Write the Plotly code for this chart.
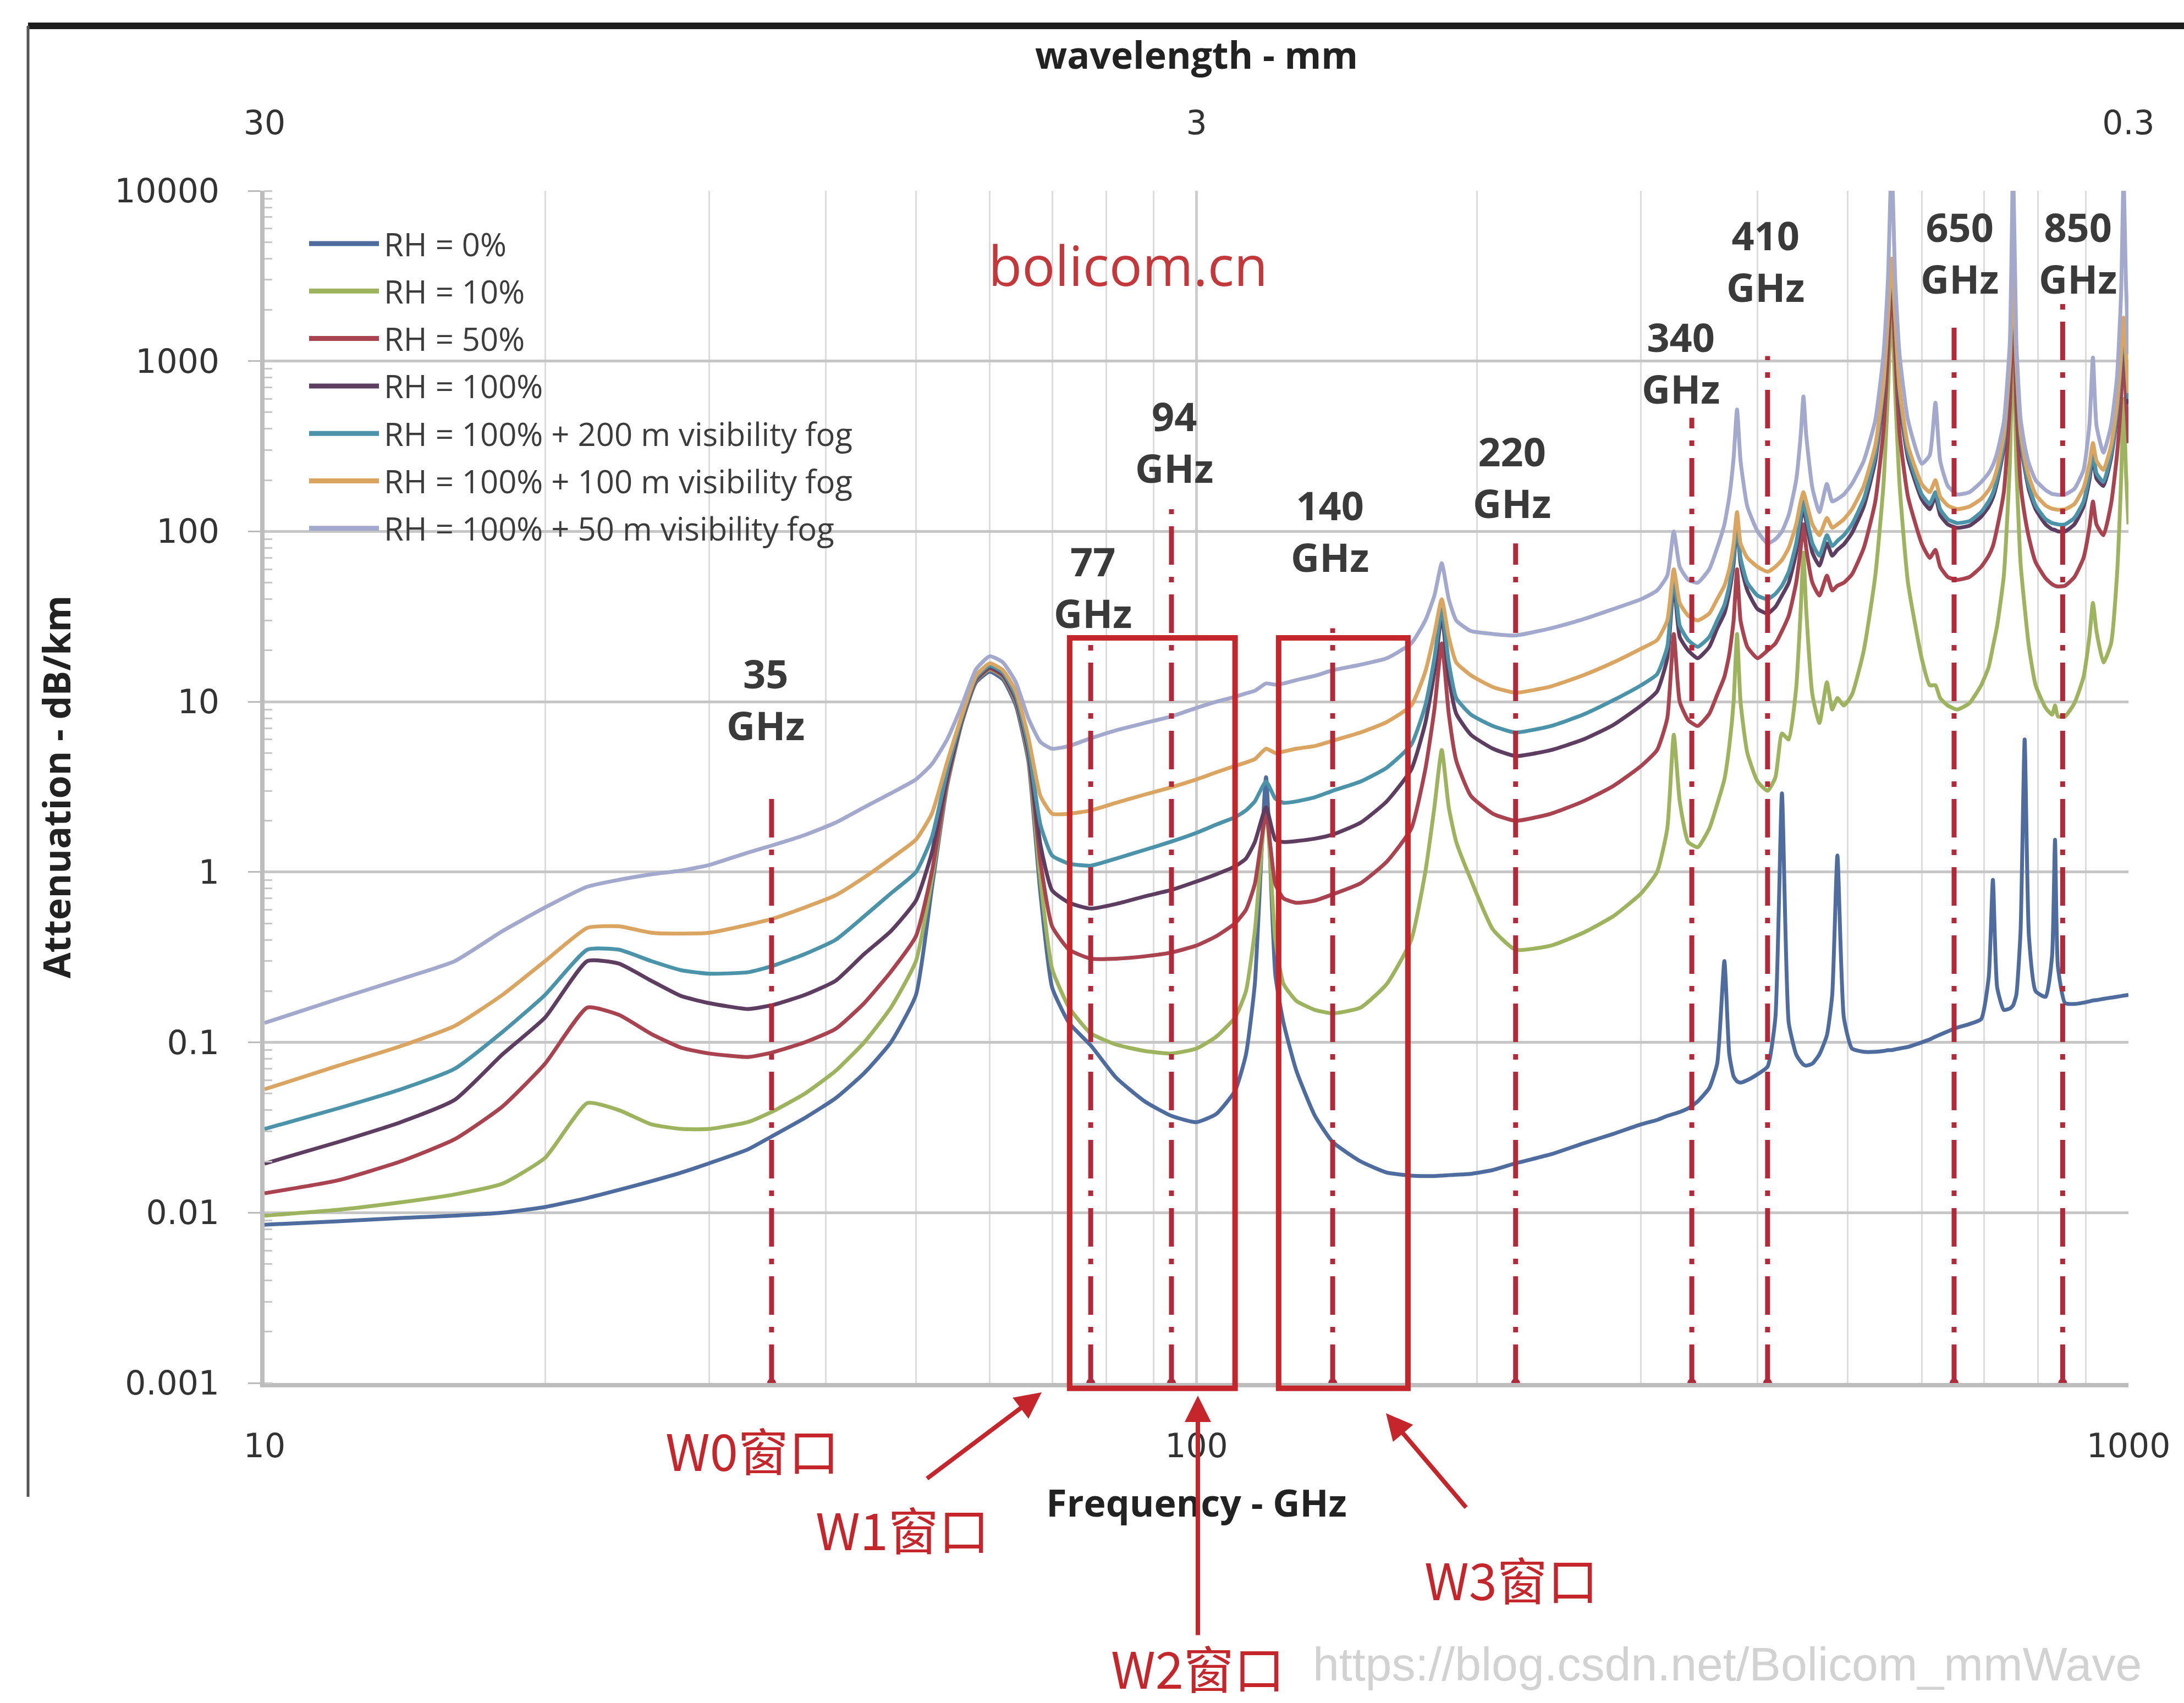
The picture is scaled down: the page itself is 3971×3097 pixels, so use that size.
import numpy as np
import plotly.graph_objects as go

# ---------------- data ----------------
freq_ghz = [10, 12, 14, 16, 18, 20, 22.2, 24, 26, 28,
            30, 33, 35, 38, 41, 44, 47, 50, 52, 54,
            56, 58, 60, 62, 64, 66, 68, 70, 73, 77,
            82, 88, 94, 100, 105, 110, 113, 115.5, 118.75, 121.5,
            124, 128, 134, 140, 150, 160, 170, 176, 180, 183.3,
            186.5, 190, 197, 208, 220, 240, 260, 280, 300, 312,
            320, 325.2, 330, 337, 345, 355, 362, 368.5, 373, 377,
            380.2, 383.5, 390, 400, 410, 418, 424.8, 432, 440, 445,
            448, 451, 458, 466, 474.7, 481, 487.2, 495, 505, 520,
            535, 546, 552, 557, 562, 568, 580, 600, 612, 620.7,
            628, 640, 655, 675, 695, 708, 715.4, 723, 735, 746,
            752, 758, 766, 773.8, 782, 795, 815, 828, 834.1, 840,
            855, 875, 895, 908, 916, 924, 940, 958, 972, 982,
            988, 994, 1000]

rh_0 = [0.0085, 0.0089, 0.0093, 0.0096, 0.0100, 0.0108, 0.0122, 0.0136, 0.0153, 0.0172,
        0.0195, 0.0235, 0.028, 0.036, 0.047, 0.066, 0.10, 0.19, 0.8, 3.2,
        7.5, 13, 15, 13.5, 9.5, 4.5, 0.75, 0.21, 0.13, 0.096,
        0.062, 0.045, 0.037, 0.034, 0.038, 0.052, 0.085, 0.22, 3.6, 0.25,
        0.13, 0.068, 0.037, 0.026, 0.02, 0.0172, 0.0165, 0.0164, 0.0164, 0.0165,
        0.0166, 0.0167, 0.0169, 0.0178, 0.0195, 0.022, 0.0255, 0.029, 0.033, 0.035,
        0.037, 0.038, 0.039, 0.041, 0.045, 0.054, 0.075, 0.30, 0.085, 0.063,
        0.059, 0.058, 0.06, 0.065, 0.072, 0.14, 2.9, 0.13, 0.085, 0.077,
        0.074, 0.073, 0.075, 0.085, 0.11, 0.19, 1.25, 0.14, 0.092, 0.088,
        0.088, 0.089, 0.09, 0.09, 0.091, 0.092, 0.094, 0.1, 0.104, 0.108,
        0.111, 0.116, 0.122, 0.128, 0.137, 0.24, 0.9, 0.21, 0.155, 0.158,
        0.165, 0.19, 0.45, 6.0, 0.42, 0.2, 0.185, 0.32, 1.55, 0.28,
        0.17, 0.168, 0.171, 0.174, 0.176, 0.177, 0.18, 0.183, 0.185, 0.187,
        0.188, 0.189, 0.19]

rh_10 = [0.0096, 0.0104, 0.0115, 0.0128, 0.0148, 0.021, 0.044, 0.040, 0.033, 0.031,
         0.031, 0.034, 0.039, 0.05, 0.068, 0.10, 0.16, 0.3, 0.9, 3.3,
         7.6, 13.3, 15.5, 14, 10, 4.8, 0.9, 0.27, 0.16, 0.113,
         0.097, 0.089, 0.086, 0.092, 0.108, 0.14, 0.2, 0.45, 2.4, 0.4,
         0.22, 0.175, 0.155, 0.148, 0.16, 0.22, 0.4, 1.0, 2.4, 5.2,
         2.4, 1.5, 0.9, 0.46, 0.35, 0.37, 0.44, 0.55, 0.75, 1.0,
         1.8, 6.4, 2.6, 1.5, 1.4, 1.8, 2.5, 3.5, 5.5, 10,
         25, 10, 5, 3.4, 3.0, 3.6, 6.5, 6, 12, 35,
         75, 35, 11, 7.5, 13, 9, 10.5, 9.5, 11, 20,
         55, 190, 650, 2200, 650, 190, 50, 18, 12.5, 12.5,
         10.5, 9.5, 9, 9.8, 12.5, 16, 21, 28, 55, 250,
         1500, 250, 65, 36, 21, 12.5, 9.2, 8.4, 9.5, 8.2,
         8.2, 9.8, 14, 24, 38, 26, 17, 22, 55, 200,
         600, 220, 110]

rh_50 = [0.013, 0.0155, 0.02, 0.027, 0.042, 0.075, 0.16, 0.145, 0.112, 0.093,
         0.086, 0.082, 0.087, 0.1, 0.12, 0.17, 0.26, 0.42, 1.0, 3.4,
         7.7, 13.4, 15.7, 14.2, 10.2, 5, 1.15, 0.48, 0.35, 0.31,
         0.31, 0.32, 0.337, 0.37, 0.42, 0.5, 0.6, 0.85, 2.2, 0.85,
         0.7, 0.66, 0.68, 0.74, 0.86, 1.15, 1.8, 4, 9, 22,
         8.5, 4.5, 2.8, 2.2, 2.0, 2.2, 2.6, 3.2, 4.2, 5.2,
         8, 25, 10, 7.8, 7.2, 8.5, 11, 14, 19, 30,
         60, 30, 21, 18, 20, 22, 26, 32, 50, 80,
         110, 80, 50, 42, 55, 45, 48, 50, 56, 80,
         150, 400, 1100, 3000, 1100, 380, 160, 85, 70, 78,
         62, 54, 52, 54, 62, 72, 82, 105, 170, 550,
         2200, 550, 190, 125, 92, 66, 53, 49, 48, 47.5,
         48, 54, 70, 105, 150, 110, 95, 145, 280, 600,
         1200, 600, 330]

rh_100 = [0.0194, 0.026, 0.034, 0.046, 0.085, 0.14, 0.3, 0.29, 0.23, 0.187,
          0.17, 0.157, 0.165, 0.19, 0.23, 0.33, 0.45, 0.68, 1.3, 3.6,
          7.8, 13.6, 16, 14.5, 10.5, 5.2, 1.45, 0.78, 0.66, 0.61,
          0.65, 0.72, 0.785, 0.88, 0.97, 1.08, 1.2, 1.5, 2.4, 1.55,
          1.5, 1.52, 1.57, 1.66, 1.95, 2.6, 4.0, 7.5, 15, 32,
          14, 8.5, 6.4, 5.3, 4.8, 5.2, 6.0, 7.3, 9.5, 11.5,
          18, 50, 24, 20, 18, 21, 27, 33, 44, 65,
          110, 65, 45, 35, 33, 36, 42, 50, 75, 115,
          140, 115, 75, 63, 85, 72, 78, 84, 98, 140,
          260, 650, 1600, 3600, 1600, 600, 270, 155, 135, 160,
          125, 110, 105, 108, 122, 140, 158, 195, 310, 900,
          2900, 900, 330, 235, 175, 135, 110, 103, 102, 100,
          100, 110, 140, 200, 275, 205, 185, 270, 480, 950,
          1600, 950, 560]

fog_200m = [0.031, 0.041, 0.053, 0.07, 0.115, 0.19, 0.35, 0.35, 0.3, 0.265,
            0.253, 0.258, 0.28, 0.33, 0.40, 0.55, 0.75, 1.0, 1.6, 3.9,
            8.0, 13.8, 16.3, 14.8, 10.8, 5.5, 1.9, 1.25, 1.12, 1.09,
            1.2, 1.35, 1.51, 1.7, 1.9, 2.1, 2.3, 2.6, 3.4, 2.7,
            2.55, 2.6, 2.75, 3.0, 3.4, 4.1, 5.6, 9.5, 18, 35,
            17, 10.5, 8.4, 7.2, 6.6, 7.2, 8.4, 10.2, 12.5, 14.5,
            21, 55, 28, 23, 21, 24, 30, 37, 48, 70,
            115, 70, 50, 42, 40, 43, 48, 58, 85, 125,
            150, 125, 85, 72, 95, 82, 88, 95, 110, 155,
            280, 700, 1700, 3800, 1700, 650, 290, 165, 145, 170,
            135, 118, 112, 115, 130, 150, 168, 205, 330, 950,
            3000, 950, 350, 245, 185, 142, 118, 112, 111, 110,
            110, 120, 150, 215, 290, 220, 195, 285, 500, 1000,
            1700, 1000, 600]

fog_100m = [0.053, 0.073, 0.095, 0.125, 0.19, 0.3, 0.47, 0.48, 0.44, 0.435,
            0.44, 0.49, 0.53, 0.62, 0.73, 0.93, 1.2, 1.55, 2.2, 4.4,
            8.3, 14.2, 16.8, 15.3, 11.5, 6.2, 2.8, 2.2, 2.2, 2.3,
            2.55, 2.85, 3.15, 3.5, 3.85, 4.2, 4.4, 4.6, 5.3, 5.0,
            5.1, 5.3, 5.5, 5.9, 6.6, 7.6, 9.5, 15, 25, 40,
            24, 17, 14.3, 12.2, 11.3, 12.3, 14.3, 17, 20.5, 23,
            30, 60, 38, 32, 30, 33, 40, 48, 60, 85,
            130, 85, 70, 62, 58, 62, 68, 80, 110, 150,
            170, 150, 110, 95, 120, 105, 110, 118, 135, 185,
            320, 750, 1800, 4000, 1800, 700, 320, 190, 170, 200,
            160, 142, 135, 140, 155, 175, 195, 235, 370, 1000,
            3200, 1000, 390, 270, 210, 165, 142, 136, 135, 134,
            135, 145, 180, 250, 330, 260, 230, 320, 560, 1100,
            1800, 1100, 650]

fog_50m = [0.13, 0.18, 0.235, 0.3, 0.45, 0.62, 0.82, 0.9, 0.97, 1.02,
           1.1, 1.3, 1.43, 1.65, 1.95, 2.4, 2.9, 3.5, 4.3, 6.0,
           9.5, 15.5, 18.5, 17, 13, 8, 5.8, 5.3, 5.5, 6.1,
           6.8, 7.5, 8.2, 9.2, 10, 10.7, 11.2, 11.6, 12.8, 12.6,
           12.8, 13.4, 14.2, 15.3, 16.5, 18, 22, 30, 42, 65,
           40, 30, 26, 25, 24.5, 27, 30.5, 35, 40, 45,
           55, 100, 62, 52, 50, 60, 80, 110, 160, 270,
           520, 260, 140, 100, 85, 90, 100, 125, 200, 370,
           620, 370, 180, 130, 190, 150, 155, 165, 190, 260,
           450, 1100, 3000, 15000, 3000, 1100, 450, 250, 280, 570,
           260, 185, 165, 170, 195, 220, 245, 290, 440, 1300,
           15000, 1300, 460, 320, 250, 200, 175, 166, 165, 164,
           165, 178, 230, 420, 1050, 420, 290, 420, 800, 2500,
           12000, 2800, 1100]

series_names = ["RH = 0%", "RH = 10%", "RH = 50%", "RH = 100%",
                "RH = 100% + 200 m visibility fog",
                "RH = 100% + 100 m visibility fog",
                "RH = 100% + 50 m visibility fog"]
series_values = [rh_0, rh_10, rh_50, rh_100, fog_200m, fog_100m, fog_50m]
series_colors = ["#4e6c9e", "#9db35e", "#a8434f", "#5e3e60",
                 "#4b93a9", "#d9a560", "#a3a9cc"]

band_freqs = [35, 77, 94, 140, 220, 340, 410, 650, 850]
band_tops = [2.9, 23, 135, 27, 85, 465, 1070, 1570, 2300]
band_label_freqs = [34.5, 77.4, 94.6, 139, 218, 331, 408, 659, 883]
band_label_levels = [10.4, 47.5, 336, 101, 210, 984, 3890, 4365, 4365]

window_edges = [[73.1, 110.0], [122.5, 168.6]]
window_top = 23.7
window_floor = 0.00093

y_tick_vals = [0.001, 0.01, 0.1, 1, 10, 100, 1000, 10000]
y_tick_text = ["0.001", "0.01", "0.1", "1", "10", "100", "1000", "10000"]
x_tick_vals = [10, 100, 1000]
x_tick_text = ["10", "100", "1000"]
wavelength_tick_text = ["30", "3", "0.3"]

for s in series_values:
    assert len(s) == len(freq_ghz)

# ---------------- figure ----------------
W, H = 3971, 3097
ML, MR, MT, MB = 481, 101, 347, 582
PW, PH = W - ML - MR, H - MT - MB


def px_x(X):
    return (X - ML) / PW


def px_y(Y):
    return (H - MB - Y) / PH


fig = go.Figure()

for name, vals, col in zip(series_names, series_values, series_colors):
    fig.add_trace(go.Scatter(x=freq_ghz, y=vals, mode="lines", name=name,
                             line=dict(color=col, width=7, shape="spline", smoothing=0.5),
                             showlegend=False, hoverinfo="skip"))

band_red = "#b02a3a"
for f, top in zip(band_freqs, band_tops):
    fig.add_trace(go.Scatter(x=[f, f], y=[0.001, top], mode="lines",
                             line=dict(color=band_red, width=9, dash="70px,22px,10px,22px"),
                             showlegend=False, hoverinfo="skip"))
fig.add_trace(go.Scatter(x=band_freqs, y=[0.001] * len(band_freqs), mode="markers",
                         marker=dict(color=band_red, size=16, symbol="circle"),
                         cliponaxis=False, showlegend=False, hoverinfo="skip"))

# invisible trace for the wavelength (top) axis
fig.add_trace(go.Scatter(x=[10, 1000], y=[1, 1], xaxis="x2", mode="none",
                         showlegend=False, hoverinfo="skip"))

tick_font = dict(family="DejaVu Sans", size=60, color="#333333")
title_font = dict(family="Open Sans", size=68, color="#222222")

fig.update_layout(
    width=W, height=H, autosize=False,
    margin=dict(l=ML, r=MR, t=MT, b=MB),
    paper_bgcolor="white", plot_bgcolor="white",
    xaxis=dict(type="log", range=[1, 3], tickvals=x_tick_vals, ticktext=x_tick_text,
               tickfont=tick_font, ticks="", ticklabelstandoff=55,
               showgrid=True, gridcolor="#cdcdcd", gridwidth=5,
               minor=dict(dtick="D1", showgrid=True, gridcolor="#dcdcdc", gridwidth=3),
               showline=True, linecolor="#bdbdbd", linewidth=8,
               title=dict(text="<b>Frequency - GHz</b>", font=title_font, standoff=50),
               zeroline=False, automargin=False),
    xaxis2=dict(type="log", range=[1, 3], overlaying="x", side="top",
                tickvals=x_tick_vals, ticktext=wavelength_tick_text,
                tickfont=tick_font, ticks="", ticklabelstandoff=90, showgrid=False,
                showline=False, zeroline=False, automargin=False,
                title=dict(text="<b>wavelength - mm</b>", font=title_font, standoff=40)),
    yaxis=dict(type="log", range=[-3, 4], tickvals=y_tick_vals, ticktext=y_tick_text,
               tickfont=tick_font, ticks="outside", ticklen=22, tickwidth=3,
               tickcolor="#bbbbbb", ticklabelstandoff=40,
               minor=dict(dtick="D1", ticks="inside", ticklen=14, tickcolor="#c8c8c8",
                          tickwidth=3, showgrid=False),
               showgrid=True, gridcolor="#c6c6c6", gridwidth=5,
               showline=True, linecolor="#bdbdbd", linewidth=8,
               title=dict(text="<b>Attenuation - dB/km</b>", font=title_font, standoff=60),
               zeroline=False, automargin=False),
    showlegend=False,
)

shapes = []
annotations = []

# window boxes
box_red = "#c4262c"
for lo, hi in window_edges:
    shapes.append(dict(type="rect", xref="paper", yref="paper",
                       x0=(np.log10(lo) - 1) / 2, x1=(np.log10(hi) - 1) / 2,
                       y0=(np.log10(window_floor) + 3) / 7, y1=(np.log10(window_top) + 3) / 7,
                       line=dict(color=box_red, width=10), fillcolor="rgba(0,0,0,0)",
                       layer="above"))

# band labels
for fx, lv, f in zip(band_label_freqs, band_label_levels, band_freqs):
    annotations.append(dict(x=np.log10(fx), y=np.log10(lv), xref="x", yref="y",
                            text=f"<b>{f}<br>GHz</b>", showarrow=False,
                            xanchor="center", yanchor="middle",
                            font=dict(family="Open Sans", size=72, color="#3a3a3a"),
                            align="center"))

# manual legend
leg_top = 0.9557
leg_step = 0.0398
for i, (name, col) in enumerate(zip(series_names, series_colors)):
    yy = leg_top - i * leg_step
    shapes.append(dict(type="line", xref="paper", yref="paper",
                       x0=0.0239, x1=0.0614, y0=yy, y1=yy,
                       line=dict(color=col, width=9)))
    annotations.append(dict(x=0.0634, y=yy, xref="paper", yref="paper",
                            text=name, showarrow=False, xanchor="left", yanchor="middle",
                            font=dict(family="Open Sans", size=58, color="#3c3c3c")))

# red site name
annotations.append(dict(x=px_x(2051), y=px_y(481), xref="paper", yref="paper",
                        text="bolicom.cn", showarrow=False,
                        xanchor="center", yanchor="middle",
                        font=dict(family="Open Sans", size=100, color="#c3393b")))

# window labels
win_font = dict(family="Noto Sans CJK SC", size=92, color="#c4262c")
for txt, X, Y in [("W0窗口", 1368, 2634), ("W1窗口", 1641, 2778),
                  ("W2窗口", 2178, 3030), ("W3窗口", 2748, 2869)]:
    annotations.append(dict(x=px_x(X), y=px_y(Y), xref="paper", yref="paper",
                            text=txt, showarrow=False, xanchor="center",
                            yanchor="middle", font=win_font))

# arrows (head position, tail offset in pixels)
for hx, hy, tx, ty in [(1894, 2532, 1684, 2690), (2178, 2538, 2178, 2975),
                       (2520, 2570, 2667, 2743)]:
    annotations.append(dict(x=px_x(hx), y=px_y(hy), xref="paper", yref="paper",
                            ax=tx - hx, ay=ty - hy, text="", showarrow=True,
                            arrowhead=2, arrowsize=1.2, arrowwidth=8, arrowcolor=box_red))

# blog watermark
annotations.append(dict(x=px_x(2385), y=px_y(3026), xref="paper", yref="paper",
                        text="https://blog.csdn.net/Bolicom_mmWave", showarrow=False,
                        xanchor="left", yanchor="middle",
                        font=dict(family="Liberation Sans", size=86, color="#d2d2d2")))

# photo frame lines
shapes.append(dict(type="line", xref="paper", yref="paper",
                   x0=px_x(51), x1=px_x(W), y0=px_y(47), y1=px_y(47),
                   line=dict(color="#1e1e1e", width=12)))
shapes.append(dict(type="line", xref="paper", yref="paper",
                   x0=px_x(51), x1=px_x(51), y0=px_y(47), y1=px_y(2722),
                   line=dict(color="#555555", width=5)))

fig.update_layout(shapes=shapes, annotations=annotations)

fig.write_html("out.html")
